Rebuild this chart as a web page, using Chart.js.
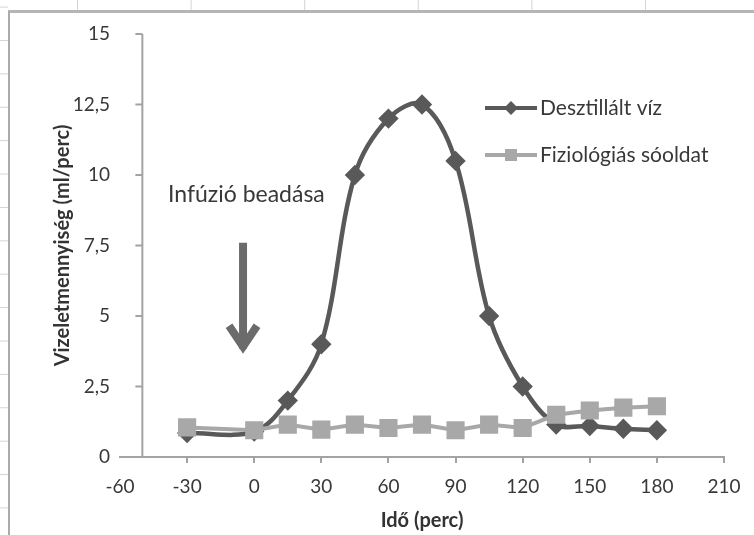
<!DOCTYPE html>
<html>
<head>
<meta charset="utf-8">
<script src="https://cdn.jsdelivr.net/npm/chart.js@4.4.1/dist/chart.umd.min.js"></script>
<style>
	body { margin: 0; width: 754px; height: 535px; overflow: hidden; background: #fff; position: relative; }
	#cols {
		position: absolute; left: 0; top: 0; width: 754px; height: 10px;
		background-image: linear-gradient(to right, #d4d4d4 1px, transparent 1px);
		background-size: 113.6px 10px; background-position: 77px 0;
	}
	#rows {
		position: absolute; left: 0; top: 0; width: 8px; height: 535px;
		background-image: linear-gradient(to bottom, #d4d4d4 1px, transparent 1px);
		background-size: 8px 33.4px; background-position: 0 6.6px;
	}
	#frame {
		position: absolute; left: 8px; top: 10px; width: 746px; height: 525px; box-sizing: border-box;
		border-left: 2px solid #ababab; border-top: 3px solid #b5b5b5; background: #fff;
	}
	#wrap { position: relative; width: 744px; height: 522px; }
</style>
</head>
<body>
<div id="cols"></div>
<div id="rows"></div>
<div id="frame"><div id="wrap"><canvas id="vizelet"></canvas></div></div>
<script>
const minutes = [-30, 0, 15, 30, 45, 60, 75, 90, 105, 120, 135, 150, 165, 180]
const desztillaltViz = [0.85, 0.9, 2, 4, 10, 12, 12.5, 10.5, 5, 2.5, 1.15, 1.1, 1.0, 0.95]
const fiziologiasSooldat = [1.05, 0.95, 1.15, 0.97, 1.15, 1.03, 1.15, 0.95, 1.15, 1.03, 1.5, 1.65, 1.75, 1.8]
const xTicks = [-60, -30, 0, 30, 60, 90, 120, 150, 180, 210]
const yTicks = [0, 2.5, 5, 7.5, 10, 12.5, 15]

const axisColor = '#a3a3a3'
const textColor = '#383838'

Chart.defaults.font.family = 'Lato'
Chart.defaults.color = textColor

const toPoints = (ys) => minutes.map((x, i) => ({ x: x, y: ys[i] }))

// y axis line sits a bit right of the -60 tick, like the Excel original
const yAxisLine = {
	id: 'yAxisLine',
	afterDatasetsDraw(chart) {
		const { ctx, scales: { x, y } } = chart
		const px = x.getPixelForValue(-50)
		ctx.save()
		ctx.strokeStyle = axisColor
		ctx.lineWidth = 2
		ctx.beginPath()
		ctx.moveTo(px, y.top)
		ctx.lineTo(px, y.bottom)
		y.ticks.forEach(t => {
			const py = y.getPixelForValue(t.value)
			ctx.moveTo(px - 7, py)
			ctx.lineTo(px, py)
		})
		ctx.stroke()
		ctx.restore()
	},
}

// "Infúzió beadása" label with the down arrow
const infusion = {
	id: 'infusion',
	afterDatasetsDraw(chart) {
		const { ctx, scales: { x, y } } = chart
		ctx.save()
		ctx.fillStyle = textColor
		ctx.font = '23px Lato'
		ctx.textAlign = 'center'
		ctx.textBaseline = 'middle'
		ctx.fillText('Infúzió beadása', x.getPixelForValue(-3.5), y.getPixelForValue(9.3))

		const ax = x.getPixelForValue(-5)
		const top = y.getPixelForValue(7.6)
		const tip = y.getPixelForValue(3.7)
		ctx.strokeStyle = '#6b6b6b'
		ctx.lineWidth = 8
		ctx.beginPath()
		ctx.moveTo(ax, top)
		ctx.lineTo(ax, tip - 4)
		ctx.stroke()
		ctx.lineJoin = 'miter'
		ctx.beginPath()
		ctx.moveTo(ax - 14, tip - 27)
		ctx.lineTo(ax, tip - 6)
		ctx.lineTo(ax + 14, tip - 27)
		ctx.stroke()
		ctx.restore()
	},
}

// legend drawn inside the plot, line + marker like Excel
const lineLegend = {
	id: 'lineLegend',
	afterDraw(chart) {
		const { ctx, chartArea } = chart
		const x0 = chartArea.right - 239
		ctx.save()
		ctx.font = '21px Lato'
		ctx.textBaseline = 'middle'
		chart.data.datasets.forEach((ds, i) => {
			const yy = chartArea.top + 74 + i * 47
			ctx.strokeStyle = ds.borderColor
			ctx.lineWidth = 4
			ctx.beginPath()
			ctx.moveTo(x0, yy)
			ctx.lineTo(x0 + 52, yy)
			ctx.stroke()
			ctx.fillStyle = ds.pointBackgroundColor
			const cx = x0 + 26
			ctx.beginPath()
			if (ds.pointStyle === 'rectRot') {
				ctx.moveTo(cx, yy - 7)
				ctx.lineTo(cx + 7, yy)
				ctx.lineTo(cx, yy + 7)
				ctx.lineTo(cx - 7, yy)
				ctx.closePath()
			} else {
				ctx.rect(cx - 6, yy - 6, 12, 12)
			}
			ctx.fill()
			ctx.fillStyle = textColor
			ctx.fillText(ds.label, x0 + 55, yy)
		})
		ctx.restore()
	},
}

new Chart(document.getElementById('vizelet'), {
	type: 'line',
	data: {
		datasets: [
			{
				label: 'Desztillált víz',
				data: toPoints(desztillaltViz),
				borderColor: '#595959',
				backgroundColor: '#595959',
				pointBackgroundColor: '#595959',
				pointBorderColor: '#595959',
				pointStyle: 'rectRot',
				pointRadius: 7,
				borderWidth: 4.5,
				tension: 0.35,
				order: 1,
			},
			{
				label: 'Fiziológiás sóoldat',
				data: toPoints(fiziologiasSooldat),
				borderColor: '#a8a8a8',
				backgroundColor: '#a8a8a8',
				pointBackgroundColor: '#a8a8a8',
				pointBorderColor: '#a8a8a8',
				pointStyle: 'rect',
				pointRadius: 10,
				borderWidth: 4,
				tension: 0,
				order: 0,
			},
		],
	},
	options: {
		responsive: true,
		maintainAspectRatio: false,
		animation: false,
		layout: {
			padding: { left: 38, right: 30, top: 21, bottom: 0 },
		},
		plugins: {
			legend: { display: false },
			tooltip: { enabled: false },
		},
		scales: {
			x: {
				type: 'linear',
				min: -60,
				max: 210,
				afterBuildTicks: s => { s.ticks = xTicks.map(v => ({ value: v })) },
				afterFit: s => { s.height = 78 },
				grid: {
					drawOnChartArea: false,
					tickLength: 6,
					color: ctx => (ctx.tick && ctx.tick.value === -60 ? 'rgba(0,0,0,0)' : axisColor),
					lineWidth: 2,
				},
				border: { color: axisColor, width: 2 },
				ticks: { font: { size: 19 }, padding: 12, maxRotation: 0 },
				title: {
					display: true,
					text: 'Idő (perc)',
					font: { size: 20, weight: 'bold' },
					color: '#333333',
					padding: { top: 0, bottom: 2 },
				},
			},
			y: {
				min: 0,
				max: 15,
				afterBuildTicks: s => { s.ticks = yTicks.map(v => ({ value: v })) },
				afterFit: s => { s.width = 72 },
				grid: { display: false },
				border: { display: false },
				ticks: {
					font: { size: 19 },
					padding: 2,
					callback: v => String(v).replace('.', ','),
				},
				title: {
					display: true,
					text: 'Vizeletmennyiség (ml/perc)',
					font: { size: 20, weight: 'bold' },
					color: '#333333',
					padding: { top: 3, bottom: 3 },
				},
			},
		},
	},
	plugins: [yAxisLine, infusion, lineLegend],
})
</script>
</body>
</html>
